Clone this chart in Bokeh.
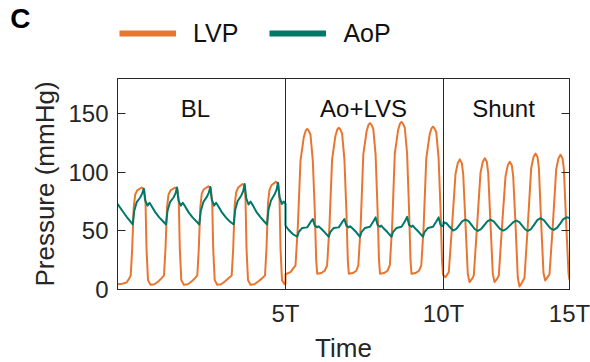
from bokeh.plotting import figure
from bokeh.layouts import column
from bokeh.models import Range1d, FixedTicker, LinearAxis, Span, Legend, LegendItem
from bokeh.core.properties import value
from bokeh.embed import file_html
from bokeh.resources import INLINE

FONT = "Liberation Sans"
INK = "#262626"
LVP_COLOR = "#E8762F"
AOP_COLOR = "#00786A"

# ---- data (time in arbitrary units; segment boundaries are 5T, 10T, 15T) ----
segments = ["BL", "Ao+LVS", "Shunt"]
segment_label_t = [78, 246, 386]
segment_bounds = [168, 326]
x_ticks = [168, 326, 452]
x_tick_labels = ["5T", "10T", "15T"]
y_ticks = [0, 50, 100, 150]
series_names = ["LVP", "AoP"]
panel_letter = "C"

lvp_bl = [(0, 4.5), (5, 5), (9, 6), (11.5, 9), (13.2, 12),
          (14.7, 35), (16.2, 70), (17.7, 81), (19.7, 84.5), (24.2, 87), (26.7, 85.5), (28, 75), (29, 35), (30.5, 8), (33, 4), (37, 4.5), (41, 7), (44, 9.5), (46.5, 12),
          (48, 35), (49.5, 70), (51, 81), (53, 84.5), (57.5, 87), (60, 85.5), (61.3, 75), (62.3, 35), (63.8, 8), (66.3, 4), (70.3, 4.5), (74.3, 7), (77.3, 9.5), (79.8, 12),
          (81.3, 35), (82.8, 70), (84.3, 82), (86.3, 85.5), (90.8, 88), (93.2, 86.5), (94.7, 75), (95.7, 35), (97.2, 8), (99.7, 4), (103.7, 4.5), (107.7, 7), (111, 9.5), (114.2, 12),
          (115.7, 35), (117.2, 72), (118.7, 83), (120.7, 87), (125, 90), (127.2, 88), (128, 77), (129, 35), (130.5, 8), (133, 4), (137, 4.5), (141, 7), (144.5, 9.5), (147.5, 12),
          (149, 35), (150.5, 74), (152, 85), (154, 89), (158.3, 92), (160.7, 90), (162, 78), (163, 35), (164.5, 8), (167, 4.5), (168, 5)]

lvp_ao = [(168, 13), (173, 14.8),
          (178, 20.5), (180.3, 53), (183, 110), (186.3, 130), (188.2, 135.5), (189.7, 137), (191.2, 135.5), (193, 132), (195.3, 110), (197.3, 67), (198.7, 25), (199.7, 13.4), (203.7, 14), (207.2, 16),
          (209.6, 20.5), (211.9, 53), (214.6, 111), (217.9, 131), (219.8, 136.5), (221.3, 138), (222.8, 136.5), (224.6, 133), (226.9, 111), (228.9, 67), (230.3, 25), (231.3, 13.4), (235.3, 14), (238.8, 16),
          (240.8, 20.5), (243.1, 53), (245.8, 115), (249.1, 135), (251, 140.5), (252.5, 142), (254, 140.5), (255.8, 137), (258.1, 115), (260.1, 67), (261.5, 25), (262.5, 13.4), (266.5, 14), (270, 16),
          (272.3, 20.5), (274.6, 53), (277.3, 116), (280.6, 136), (282.5, 141.5), (284, 143), (285.5, 141.5), (287.3, 138), (289.6, 116), (291.6, 67), (293, 25), (294, 13.4), (298, 14), (301.5, 16),
          (303.8, 20.5), (306.1, 53), (308.8, 112), (312.1, 132), (314, 137.5), (315.5, 139), (317, 137.5), (318.8, 134), (321.1, 112), (323.1, 67), (324.5, 25), (325.5, 13), (326, 12)]

lvp_shunt = [(326, 12), (328, 10.5), (331.3, 14.8),
             (334.7, 56), (338, 98.5), (340.3, 108), (342.3, 111), (344.3, 108), (345.7, 98.5), (348, 56), (350.3, 13.4), (352, 6.3), (354.5, 9), (356.3, 12),
             (359.7, 56), (363, 99.5), (365.3, 109), (367.3, 112), (369.3, 109), (370.7, 99.5), (373, 56), (375.3, 13.4), (377, 6.3), (379.5, 9), (381.3, 12),
             (384.7, 56), (388, 96.5), (390.3, 106), (392.3, 109), (394.3, 106), (395.7, 96.5), (398, 56), (400.3, 10), (402, 2.5), (404.5, 6), (407, 10),
             (410.4, 56), (413.7, 103.5), (416, 113), (418, 116), (420, 113), (421.4, 103.5), (423.7, 56), (426, 14), (427.7, 7.7), (430, 10.5), (432, 13),
             (435.4, 56), (438.7, 102.5), (441, 112), (443, 115), (445, 112), (446.4, 102.5), (448.7, 56), (451, 14), (452, 8)]

aop_bl = [(0, 73), (5, 67), (10, 61), (15.2, 55.5),
          (16.7, 67), (19.2, 74.5), (22.7, 78.5), (24.7, 82), (26.2, 86), (27.7, 76), (30, 71.5), (32, 74), (34.2, 71), (37.7, 66), (41.7, 61.5), (45.7, 58),
          (48.5, 55.5), (50, 67), (52.5, 74.5), (56, 78.5), (58, 82), (59.5, 87), (61, 76), (63.3, 71.5), (65.3, 74), (67.5, 71), (71, 66), (75, 61.5), (79, 58),
          (81.8, 55.5), (83.3, 67), (85.8, 74.5), (89.3, 79), (91.3, 82.5), (92.8, 87.5), (94.3, 76.5), (96.6, 71.5), (98.6, 74), (100.8, 71), (104.3, 66), (108.3, 61.5), (112.3, 58),
          (116.2, 55.5), (117.7, 68), (120.2, 75.5), (123.7, 80), (125.7, 84), (127.2, 90), (128.7, 78), (131, 72.5), (133, 75), (135.2, 72), (138.7, 66.5), (142.7, 62), (146.7, 58),
          (149.5, 55.5), (151, 68), (153.5, 76), (157, 81), (159, 85), (160.5, 91), (162, 79), (164.3, 73), (166.3, 75), (168, 73)]

aop_ao = [(168, 54.5), (171, 51), (175, 47.5), (179.7, 45),
          (181.2, 49), (184.7, 52.5), (189.7, 53), (193, 57.4), (195.3, 60), (197.3, 54.5), (199.7, 53), (201, 54), (203.5, 52), (207, 49), (211.3, 45),
          (212.8, 49), (216.3, 52.5), (221.3, 53), (224.6, 57.4), (226.9, 60), (228.9, 54.5), (231.3, 53), (232.6, 54), (235.1, 52), (238.6, 49), (242.5, 45),
          (244, 49), (247.5, 52.5), (252.5, 53.5), (255.8, 58), (258.1, 61.5), (260.1, 55), (262.5, 53.5), (263.8, 54.5), (266.3, 52), (269.8, 49), (274, 45),
          (275.5, 49), (279, 52.5), (284, 53.5), (287.3, 58), (289.6, 62), (291.6, 55), (294, 53.5), (295.3, 54.5), (297.8, 52), (301.3, 49), (305.5, 45),
          (307, 49), (310.5, 52.5), (315.5, 53.5), (318.8, 58), (321.1, 61.5), (323.1, 55), (325, 54), (326, 55)]

aop_shunt = [(326, 57.4), (329, 56.5), (332, 53.5), (335.7, 50.3),
             (338.8, 51.8), (341.8, 55), (344.9, 58.3), (348, 59.7), (351.1, 58.3), (354.2, 55), (357.2, 51.6), (360.3, 50),
             (363.5, 51.5), (366.7, 54.8), (369.8, 58.2), (373, 59.7), (376.2, 58.2), (379.3, 55), (382.5, 51.8), (385.7, 50.3),
             (389, 51.7), (392.3, 54.5), (395.7, 57.4), (399, 58.8), (401.8, 57.5), (404.7, 54.4), (407.5, 51.4), (410.3, 50),
             (413.5, 51.6), (416.7, 55.4), (419.8, 59.2), (423, 60.8), (426.3, 59.2), (429.7, 55.6), (433, 52.2), (436.3, 50.8),
             (439.5, 52.5), (442.7, 56.2), (445.8, 60), (449, 61.6), (452, 61)]

lvp = lvp_bl + lvp_ao + lvp_shunt
aop = aop_bl + aop_ao + aop_shunt
lvp_t = [a for a, b in lvp]
lvp_p = [b for a, b in lvp]
aop_t = [a for a, b in aop]
aop_p = [b for a, b in aop]

LEFT, RIGHT, FW = 117, 21, 452

# ---- header: panel letter (as a horizontal tick label) and legend ----
HEAD_H = 77
head = figure(frame_width=FW, frame_height=HEAD_H,
              x_range=Range1d(0, FW), y_range=Range1d(HEAD_H, 0),
              output_backend="svg", toolbar_location=None,
              min_border_left=LEFT, min_border_right=RIGHT,
              min_border_top=0, min_border_bottom=0, x_axis_type=None)
head.grid.visible = False
head.outline_line_color = None
hy = head.yaxis[0]
hy.ticker = FixedTicker(ticks=[18])
hy.major_label_overrides = {18: panel_letter}
hy.major_label_text_font = FONT
hy.major_label_text_font_size = "28px"
hy.major_label_text_font_style = "bold"
hy.major_label_text_color = "#000000"
hy.major_label_standoff = 87
hy.major_tick_out = 0
hy.major_tick_in = 0
hy.major_tick_line_color = None
hy.minor_tick_line_color = None
hy.axis_line_color = None

nan = float("nan")
r_lvp = head.line([nan], [nan], line_color=LVP_COLOR, line_width=6)
r_aop = head.line([nan], [nan], line_color=AOP_COLOR, line_width=6)
legend = Legend(items=[LegendItem(label=series_names[0], renderers=[r_lvp]),
                       LegendItem(label=series_names[1], renderers=[r_aop])],
                location=(2, 29), orientation="horizontal",
                glyph_width=57, glyph_height=30, label_height=30,
                label_standoff=17, spacing=31, padding=0, margin=0,
                border_line_color=None, background_fill_alpha=0,
                label_text_font=FONT, label_text_font_size="25px",
                label_text_color="#111111")
head.add_layout(legend)

# ---- main chart ----
p = figure(frame_width=FW, frame_height=211,
           x_range=Range1d(0, 452), y_range=Range1d(0, 180),
           output_backend="svg", toolbar_location=None,
           min_border_left=LEFT, min_border_right=RIGHT,
           min_border_top=1, min_border_bottom=72)
p.grid.visible = False
p.outline_line_color = INK
p.outline_line_width = 1

xa = p.xaxis[0]
xa.ticker = FixedTicker(ticks=x_ticks)
xa.major_label_overrides = {t: s for t, s in zip(x_ticks, x_tick_labels)}
xa.major_tick_in = 8
xa.major_tick_out = 0
xa.minor_tick_line_color = None
xa.axis_line_color = INK
xa.major_tick_line_color = INK
xa.major_label_text_font = FONT
xa.major_label_text_font_size = "24px"
xa.major_label_text_color = INK
xa.major_label_standoff = 10
xa.axis_label = "Time"
xa.axis_label_text_font = FONT
xa.axis_label_text_font_size = "26px"
xa.axis_label_text_font_style = "normal"
xa.axis_label_text_color = INK
xa.axis_label_standoff = 3

ya = p.yaxis[0]
ya.ticker = FixedTicker(ticks=y_ticks)
ya.major_tick_in = 8
ya.major_tick_out = 0
ya.minor_tick_line_color = None
ya.axis_line_color = INK
ya.major_tick_line_color = INK
ya.major_label_text_font = FONT
ya.major_label_text_font_size = "24px"
ya.major_label_text_color = INK
ya.major_label_standoff = 9
ya.axis_label = "Pressure (mmHg)"
ya.axis_label_text_font = FONT
ya.axis_label_text_font_size = "26px"
ya.axis_label_text_font_style = "normal"
ya.axis_label_text_color = INK
ya.axis_label_standoff = 5

ra = LinearAxis(ticker=FixedTicker(ticks=y_ticks),
                major_label_overrides={t: "" for t in y_ticks},
                major_label_text_font_size="0px", major_label_standoff=0,
                major_tick_in=8, major_tick_out=0,
                minor_tick_line_color=None,
                axis_line_color=INK, major_tick_line_color=INK)
p.add_layout(ra, "right")

for b in segment_bounds:
    p.add_layout(Span(location=b, dimension="height", line_color=INK, line_width=1))

p.line(lvp_t, lvp_p, line_color=LVP_COLOR, line_width=2, line_join="round")
p.line(aop_t, aop_p, line_color=AOP_COLOR, line_width=2, line_join="round")

p.text(x=segment_label_t, y=[154] * len(segments), text=segments,
       text_font=value(FONT), text_font_size=value("24px"),
       text_align="center", text_baseline="alphabetic", text_color="#111111")

layout = column(head, p, spacing=0)
open("out.html", "w").write(file_html(layout, INLINE))
